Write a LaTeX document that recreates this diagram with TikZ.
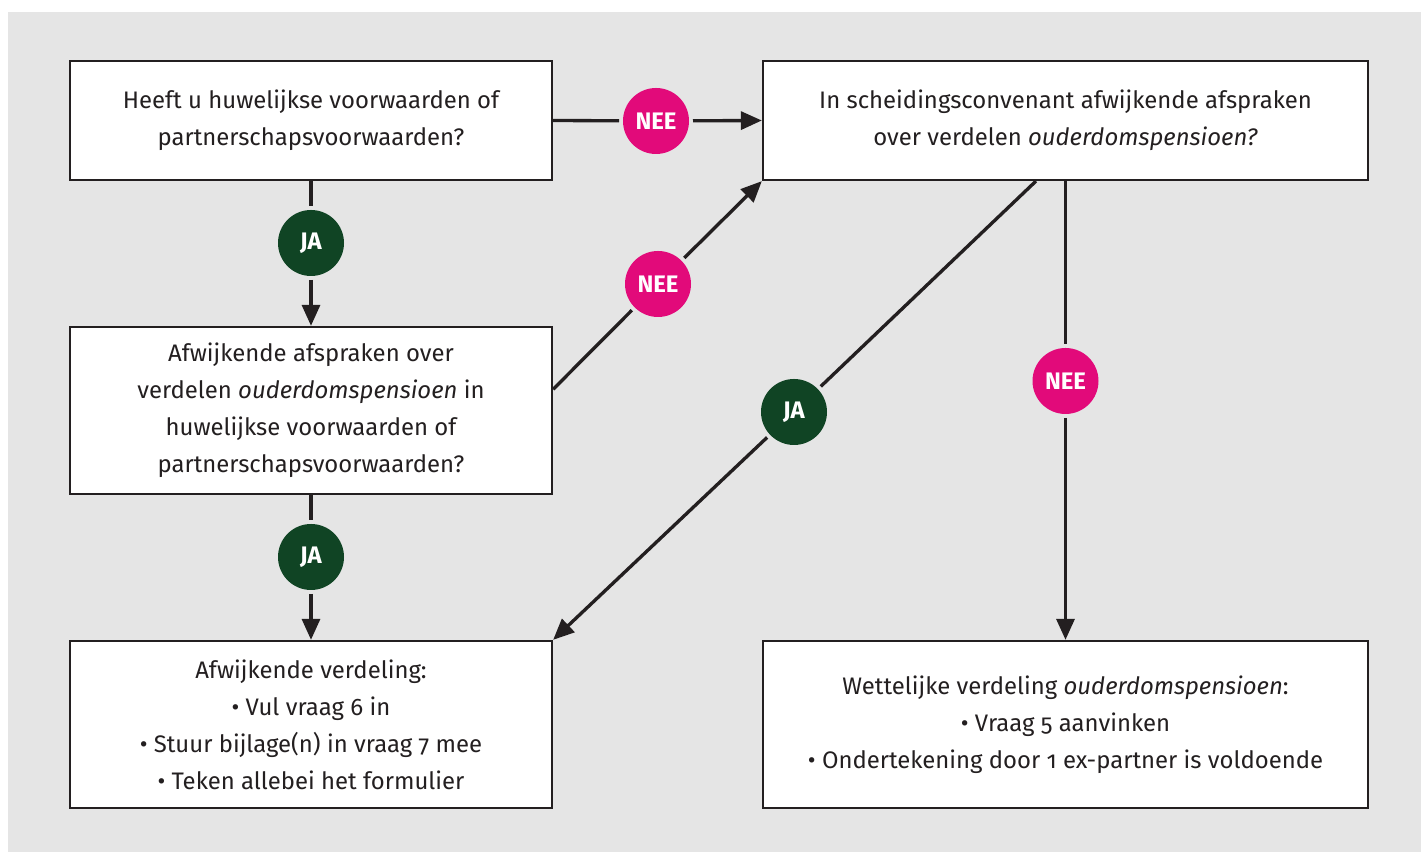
\documentclass[tikz,border=0pt]{standalone}
\usepackage{fontspec}
\setmainfont[Numbers=OldStyle]{Fira Sans}
\usepackage{tikz}
\usetikzlibrary{arrows.meta}
\definecolor{bggray}{RGB}{229,229,229}
\definecolor{neepink}{RGB}{226,10,122}
\definecolor{jagreen}{RGB}{16,68,36}
\definecolor{inkdark}{RGB}{35,31,32}

\begin{document}
\begin{tikzpicture}[
  vraag/.style={draw=inkdark, fill=white, line width=1.3pt, text=inkdark, align=center,
    minimum width=9.64cm, minimum height=3.34cm, font=\fontsize{13.6}{21}\selectfont},
  breed/.style={vraag, minimum width=12.1cm},
  laag/.style={minimum height=2.38cm},
  antwoord/.style={circle, minimum size=1.32cm, inner sep=0pt, outer sep=0.08cm,
    text=white, font=\fontsize{13.6}{15}\selectfont\bfseries},
  nee/.style={antwoord, fill=neepink},
  ja/.style={antwoord, fill=jagreen},
  pijl/.style={draw=inkdark, line width=1.9pt},
  kop/.style={-{Triangle[length=0.42cm,width=0.36cm]}}
]
\useasboundingbox (0,0) rectangle (28.42,17.04);
\fill[bggray] (0.16,0) rectangle (28.42,16.8);

\node[vraag, laag] (huwelijk) at (6.22,14.63) {Heeft u huwelijkse voorwaarden of\\partnerschapsvoorwaarden?};
\node[breed, laag] (convenant) at (21.31,14.63) {In scheidingsconvenant afwijkende afspraken\\over verdelen \textit{ouderdomspensioen?}};
\node[vraag] (afspraken) at (6.22,8.83) {Afwijkende afspraken over\\verdelen \textit{ouderdomspensioen} in\\huwelijkse voorwaarden of\\partnerschapsvoorwaarden?};
\node[vraag] (afwijkend) at (6.22,2.55) {Afwijkende verdeling:\\\textbullet\ Vul vraag 6 in\\\textbullet\ Stuur bijlage(n) in vraag 7 mee\\\textbullet\ Teken allebei het formulier};
\node[breed] (wettelijk) at (21.31,2.55) {Wettelijke verdeling \textit{ouderdomspensioen}:\\\textbullet\ Vraag 5 aanvinken\\\textbullet\ Ondertekening door 1 ex-partner is voldoende};

\node[nee] (nee1) at (13.12,14.62) {NEE};
\node[ja] (ja1) at (6.22,12.18) {JA};
\node[nee] (nee2) at (13.16,11.36) {NEE};
\node[ja] (ja2) at (15.88,8.80) {JA};
\node[nee] (nee3) at (21.31,9.42) {NEE};
\node[ja] (ja3) at (6.22,5.90) {JA};

\draw[pijl] (huwelijk.east) -- (nee1);
\draw[pijl, kop] (nee1) -- (convenant.west);
\draw[pijl] (huwelijk.south) -- (ja1);
\draw[pijl, kop] (ja1) -- (afspraken.north);
\draw[pijl] (afspraken.5) -- (nee2);
\draw[pijl, kop] (nee2) -- (convenant.south west);
\draw[pijl] (afspraken.south) -- (ja3);
\draw[pijl, kop] (ja3) -- (afwijkend.north);
\draw[pijl] (convenant.244) -- (ja2);
\draw[pijl, kop] (ja2) -- (afwijkend.north east);
\draw[pijl] (convenant.south) -- (nee3);
\draw[pijl, kop] (nee3) -- (wettelijk.north);
\end{tikzpicture}
\end{document}
